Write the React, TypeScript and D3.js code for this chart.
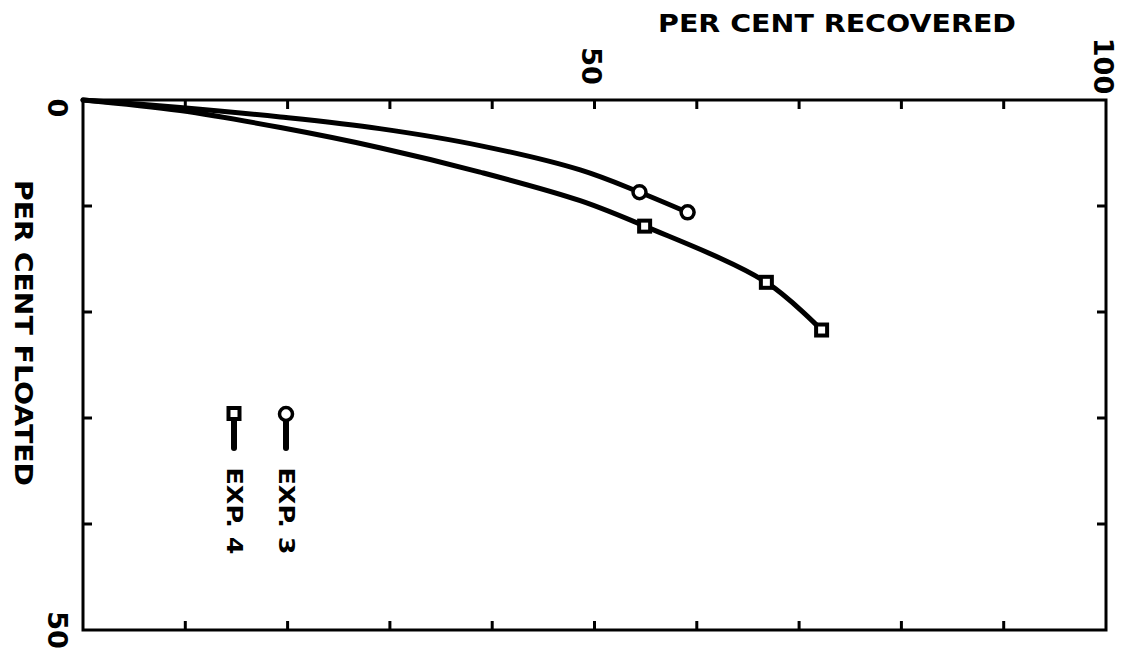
import * as d3 from "d3";
import React from "react";

const recoveredTicks = [0, 10, 20, 30, 40, 50, 60, 70, 80, 90, 100];
const floatedTicks = [0, 10, 20, 30, 40, 50];
const recoveredLabels = [50, 100];
const floatedLabels = [0, 50];

// measured points [recovered, floated]
const exp3Points = [[54.4, 8.7], [59.1, 10.6]];
const exp4Points = [[54.9, 11.9], [66.8, 17.2], [72.2, 21.7]];

// hand-drawn curves [recovered, floated]
const exp3Curve = [[0, 0], [9.5, 0.7], [19.3, 1.6], [29.0, 2.7], [38.8, 4.3], [48.6, 6.6], [54.4, 8.7], [59.1, 10.6]];
const exp4Curve = [[0, 0], [9.5, 1.0], [19.3, 2.6], [29.0, 4.5], [38.8, 6.8], [48.6, 9.5], [54.9, 11.9], [66.8, 17.2], [72.2, 21.7]];

const seriesNames = ["EXP. 3", "EXP. 4"];

const W = 1127;
const H = 650;
const plot = { left: 83, right: 1106, top: 100, bottom: 630 };
const font = "'DejaVu Sans', 'Liberation Sans', sans-serif";

const App = () => {
    const x = d3.scaleLinear().domain([0, 100]).range([plot.left, plot.right]);
    const y = d3.scaleLinear().domain([0, 50]).range([plot.top, plot.bottom]);

    const line = d3.line<number[]>()
        .x(d => x(d[0]))
        .y(d => y(d[1]))
        .curve(d3.curveCatmullRom.alpha(0.5));

    const tickLen = 9;

    return (
        <svg width={W} height={H} style={{ position: "absolute", left: 0, top: 0, background: "#fff" }}>
            {/* frame */}
            <rect x={plot.left} y={plot.top} width={plot.right - plot.left} height={plot.bottom - plot.top}
                fill="none" stroke="#000" strokeWidth={3} />

            {/* inward ticks, top and bottom */}
            {recoveredTicks.slice(1, -1).map(t => (
                <g key={"rt" + t}>
                    <line x1={x(t)} x2={x(t)} y1={plot.top} y2={plot.top + tickLen} stroke="#000" strokeWidth={3} />
                    <line x1={x(t)} x2={x(t)} y1={plot.bottom} y2={plot.bottom - tickLen} stroke="#000" strokeWidth={3} />
                </g>
            ))}
            {/* inward ticks, left and right */}
            {floatedTicks.slice(1, -1).map(t => (
                <g key={"ft" + t}>
                    <line x1={plot.left} x2={plot.left + tickLen} y1={y(t)} y2={y(t)} stroke="#000" strokeWidth={3} />
                    <line x1={plot.right} x2={plot.right - tickLen} y1={y(t)} y2={y(t)} stroke="#000" strokeWidth={3} />
                </g>
            ))}

            {/* tick labels, rotated like the scan */}
            {recoveredLabels.map(t => (
                <text key={"rl" + t} transform={`translate(${x(t) - 3},66) rotate(90)`}
                    textAnchor="middle" dominantBaseline="central"
                    fontFamily={font} fontWeight="bold" fontSize={27}>{t}</text>
            ))}
            {floatedLabels.map(t => (
                <text key={"fl" + t} transform={`translate(57,${y(t) + (t === 0 ? 8 : 0)}) rotate(90)`}
                    textAnchor="middle" dominantBaseline="central"
                    fontFamily={font} fontWeight="bold" fontSize={27}>{t}</text>
            ))}

            {/* axis titles */}
            <text x={837} y={24} textAnchor="middle" dominantBaseline="central"
                fontFamily={font} fontWeight="bold" fontSize={24}
                textLength={358} lengthAdjust="spacingAndGlyphs">PER  CENT  RECOVERED</text>
            <text transform={`translate(23,333) rotate(90)`} textAnchor="middle" dominantBaseline="central"
                fontFamily={font} fontWeight="bold" fontSize={24}
                textLength={306} lengthAdjust="spacingAndGlyphs">PER  CENT  FLOATED</text>

            {/* curves */}
            <path d={line(exp3Curve) || ""} fill="none" stroke="#000" strokeWidth={5} strokeLinecap="round" />
            <path d={line(exp4Curve) || ""} fill="none" stroke="#000" strokeWidth={5} strokeLinecap="round" />

            {/* markers */}
            {exp3Points.map((d, i) => (
                <circle key={"c" + i} cx={x(d[0])} cy={y(d[1])} r={6.5} fill="#fff" stroke="#000" strokeWidth={3.5} />
            ))}
            {exp4Points.map((d, i) => (
                <rect key={"s" + i} x={x(d[0]) - 5.5} y={y(d[1]) - 5.5} width={11} height={11}
                    fill="#fff" stroke="#000" strokeWidth={4} />
            ))}

            {/* legend */}
            {seriesNames.map((name, i) => {
                const lx = i === 0 ? 286 : 234;
                return (
                    <g key={name}>
                        <line x1={lx} x2={lx} y1={420} y2={448} stroke="#000" strokeWidth={6} strokeLinecap="round" />
                        {i === 0
                            ? <circle cx={lx} cy={414} r={6.5} fill="#fff" stroke="#000" strokeWidth={3.5} />
                            : <rect x={lx - 5.5} y={408} width={11} height={11} fill="#fff" stroke="#000" strokeWidth={4} />}
                        <text transform={`translate(${lx},511) rotate(90)`} textAnchor="middle" dominantBaseline="central"
                            fontFamily={font} fontWeight="bold" fontSize={21}
                            textLength={87} lengthAdjust="spacingAndGlyphs">{name}</text>
                    </g>
                );
            })}
        </svg>
    );
};

export default App;
